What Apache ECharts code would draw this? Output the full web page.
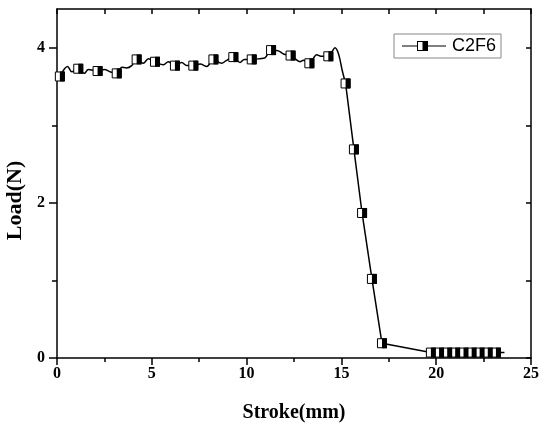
<!DOCTYPE html>
<html>
<head>
<meta charset="utf-8">
<script src="https://cdn.jsdelivr.net/npm/echarts@6/dist/echarts.min.js"></script>
<style>
  html, body { margin: 0; padding: 0; background: #fff; }
  #main { width: 540px; height: 424px; }
</style>
</head>
<body>
<div id="main"></div>
<script>
// 平台段曲线 (Stroke mm, Load N)
var curveX = [0.15, 0.56, 0.78, 1.12, 1.44, 1.65, 2.14, 2.5, 2.8, 3.15, 3.41, 3.67, 3.94, 4.2, 4.55, 4.82,
  5.17, 5.61, 5.87, 6.22, 6.58, 6.84, 7.19, 7.55, 7.9, 8.25, 8.69, 8.9, 9.3, 9.65, 9.88, 10.27,
  10.71, 10.97, 11.29, 11.67, 11.95, 12.32, 12.55, 12.82, 13.0, 13.31, 13.7, 13.92, 14.31, 14.5,
  14.66, 14.85, 15.05, 15.22];
var curveY = [3.63, 3.76, 3.69, 3.73, 3.67, 3.72, 3.70, 3.72, 3.69, 3.67, 3.75, 3.74, 3.77, 3.85, 3.80, 3.86,
  3.82, 3.78, 3.82, 3.77, 3.81, 3.77, 3.77, 3.79, 3.76, 3.85, 3.80, 3.83, 3.88, 3.81, 3.85, 3.85,
  3.86, 3.87, 3.97, 3.96, 3.92, 3.90, 3.86, 3.82, 3.84, 3.80, 3.91, 3.89, 3.89, 3.95,
  4.00, 3.92, 3.70, 3.54];

// 下降段和尾段 (直线连接)
var dropX = [15.22, 15.66, 16.09, 16.61, 17.14, 19.72, 23.6];
var dropY = [3.54, 2.69, 1.87, 1.02, 0.19, 0.07, 0.07];

// 标记点
var markX = [0.15, 1.12, 2.14, 3.15, 4.2, 5.17, 6.22, 7.19, 8.25, 9.3, 10.27, 11.29, 12.32, 13.31, 14.31,
  15.22, 15.66, 16.09, 16.61, 17.14, 19.72, 20.15, 20.58, 21.0, 21.44, 21.87, 22.29, 22.72, 23.15];
var markY = [3.63, 3.73, 3.70, 3.67, 3.85, 3.82, 3.77, 3.77, 3.85, 3.88, 3.85, 3.97, 3.90, 3.80, 3.89,
  3.54, 2.69, 1.87, 1.02, 0.19, 0.07, 0.07, 0.07, 0.07, 0.07, 0.07, 0.07, 0.07, 0.07];

var yMajor = [0, 2, 4];
var yMinor = [1, 3];
var yRight = [0, 1, 2, 3, 4];

function pairs(xs, ys) {
  return xs.map(function (x, i) { return [x, ys[i]]; });
}

var serif = "'Liberation Serif', 'Times New Roman', serif";
var sans = "'Liberation Sans', Arial, sans-serif";
var black = { color: '#000', width: 1.5 };

// 图例图标: 线 + 半实心方块
var legendIcon = 'path://M0,4.4L15,4.4L15,5.6L0,5.6Z' +
  'M26,4.4L44,4.4L44,5.6L26,5.6Z' +
  'M15,0L20.5,0L20.5,10L15,10Z M16,1L16,9L20.5,9L20.5,1Z' +
  'M20.5,0L26,0L26,10L20.5,10Z';

var myChart = echarts.init(document.getElementById('main'));

var option = {
  backgroundColor: '#fff',
  animation: false,
  grid: { left: 57, right: 9, top: 9, bottom: 66, containLabel: false, outerBoundsMode: 'none' },
  legend: {
    data: ['C2F6'],
    left: 394,
    top: 34,
    icon: legendIcon,
    itemWidth: 46,
    itemHeight: 10,
    padding: [3, 5, 3, 8],
    borderColor: '#888',
    borderWidth: 1,
    itemStyle: { color: '#000', borderWidth: 0 },
    textStyle: { fontFamily: sans, fontSize: 18, color: '#000' }
  },
  xAxis: [
    {
      type: 'value', min: 0, max: 25, interval: 5, position: 'bottom',
      name: 'Stroke(mm)', nameLocation: 'middle', nameGap: 45,
      nameTextStyle: { fontFamily: serif, fontWeight: 'bold', fontSize: 20, color: '#000' },
      axisLine: { onZero: false, lineStyle: black },
      axisTick: { inside: false, length: 7, lineStyle: black },
      minorTick: { show: true, splitNumber: 2, length: 4, lineStyle: black },
      axisLabel: { margin: 8, fontFamily: serif, fontWeight: 'bold', fontSize: 16, color: '#000' },
      splitLine: { show: false }
    },
    {
      type: 'value', min: 0, max: 25, interval: 2.5, position: 'top',
      axisLine: { onZero: false, lineStyle: black },
      axisTick: { inside: true, length: 5, lineStyle: black },
      axisLabel: { show: false },
      splitLine: { show: false }
    }
  ],
  yAxis: [
    {
      type: 'value', min: 0, max: 4.5, position: 'left',
      name: 'Load(N)', nameLocation: 'middle', nameGap: 27, nameRotate: 90,
      nameTextStyle: { fontFamily: serif, fontWeight: 'bold', fontSize: 22, color: '#000', padding: [0, 34, 0, 0] },
      axisLine: { onZero: false, lineStyle: black },
      axisTick: { inside: false, length: 8, customValues: yMajor, lineStyle: black },
      axisLabel: { margin: 12, customValues: yMajor, fontFamily: serif, fontWeight: 'bold', fontSize: 16, color: '#000' },
      splitLine: { show: false }
    },
    {
      type: 'value', min: 0, max: 4.5, position: 'left',
      axisLine: { show: false, onZero: false },
      axisTick: { inside: false, length: 5, customValues: yMinor, lineStyle: black },
      axisLabel: { show: false },
      splitLine: { show: false }
    },
    {
      type: 'value', min: 0, max: 4.5, position: 'right',
      axisLine: { onZero: false, lineStyle: black },
      axisTick: { inside: true, length: 5, customValues: yRight, lineStyle: black },
      axisLabel: { show: false },
      splitLine: { show: false }
    }
  ],
  series: [
    {
      name: 'C2F6',
      type: 'line',
      data: pairs(curveX, curveY),
      symbol: 'none',
      smooth: 0.35,
      lineStyle: black,
      itemStyle: { color: '#000' },
      z: 2
    },
    {
      type: 'line',
      data: pairs(dropX, dropY),
      symbol: 'none',
      lineStyle: black,
      z: 2
    },
    {
      type: 'scatter',
      data: pairs(markX, markY),
      symbol: 'rect',
      symbolSize: 9,
      itemStyle: { color: '#fff', borderColor: '#000', borderWidth: 1, opacity: 1 },
      z: 3
    },
    {
      type: 'scatter',
      data: pairs(markX, markY),
      symbol: 'path://M0,0L1,0L1,2L0,2Z',
      symbolSize: [5, 10],
      symbolOffset: [2.5, 0],
      itemStyle: { color: '#000', opacity: 1 },
      z: 4
    }
  ]
};

myChart.setOption(option);
</script>
</body>
</html>
